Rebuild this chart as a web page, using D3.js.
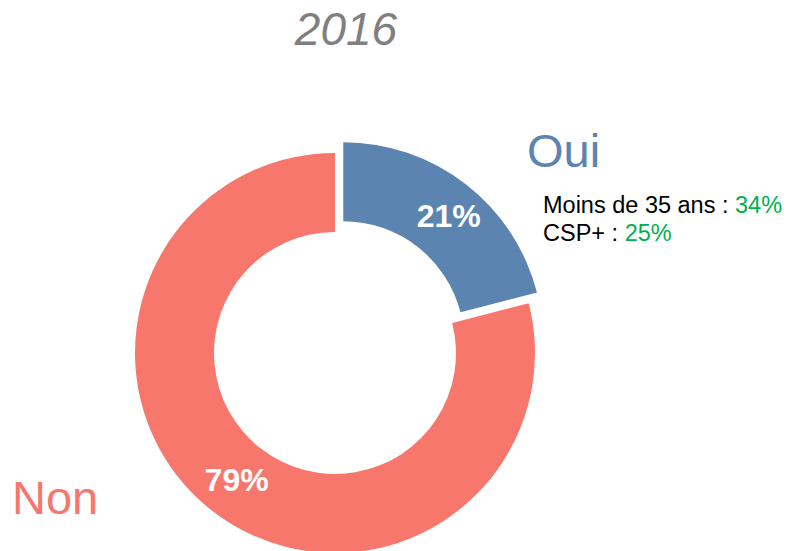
<!DOCTYPE html>
<html>
<head>
<meta charset="utf-8">
<script src="https://cdn.jsdelivr.net/npm/d3@7"></script>
<style>
  body { margin: 0; background: #fff; }
  text { font-family: Arial, "Liberation Sans", sans-serif; }
</style>
</head>
<body>
<div id="chart"></div>
<script>
const title = "2016";
const categories = ["Oui", "Non"];
const values = [21, 79];
const colors = ["#5b84b0", "#f8776d"];
const noteLabels = ["Moins de 35 ans", "CSP+"];
const noteValues = [34, 25];

const width = 788, height = 551;
const cx = 335, cy = 353;
const outerR = 200, innerR = 121;
const explode = 13.5;

const svg = d3.select("#chart")
  .append("svg")
  .attr("width", width)
  .attr("height", height);

svg.append("text")
  .attr("x", 346).attr("y", 45)
  .attr("text-anchor", "middle")
  .style("font-size", "46px")
  .style("font-style", "italic")
  .attr("fill", "#7f7f7f")
  .text(title);

const data = categories.map((c, i) => ({ cat: c, value: values[i], color: colors[i] }));

const pie = d3.pie().sort(null).value(d => d.value);
const arc = d3.arc().innerRadius(innerR).outerRadius(outerR);
const arcs = pie(data);

const g = svg.append("g").attr("transform", `translate(${cx},${cy})`);

const slices = g.selectAll("g.slice")
  .data(arcs)
  .join("g")
  .attr("class", "slice")
  .attr("transform", (d, i) => {
    if (i !== 0) return null;
    const a = (d.startAngle + d.endAngle) / 2;
    return `translate(${explode * Math.sin(a)},${-explode * Math.cos(a)})`;
  });

slices.append("path")
  .attr("d", arc)
  .attr("fill", d => d.data.color);

// the small slice label sits a bit further right in the original
slices.append("text")
  .attr("transform", d => `translate(${arc.centroid(d)})`)
  .attr("text-anchor", "middle")
  .attr("dx", (d, i) => i === 0 ? 7 : 0)
  .attr("dy", "0.36em")
  .style("font-size", "32px")
  .style("font-weight", "bold")
  .attr("fill", "#fff")
  .text(d => d.data.value + "%");

// category labels
svg.append("text")
  .attr("x", 527).attr("y", 167)
  .style("font-size", "47px")
  .attr("fill", colors[0])
  .text(categories[0]);

svg.append("text")
  .attr("x", 12).attr("y", 514)
  .style("font-size", "47px")
  .attr("fill", colors[1])
  .text(categories[1]);

// notes
const notes = svg.append("g");
noteLabels.forEach((lab, i) => {
  const t = notes.append("text")
    .attr("x", 543).attr("y", 213 + i * 28)
    .style("font-size", "23.5px")
    .attr("fill", "#000");
  t.append("tspan").text(lab + " : ");
  t.append("tspan").attr("fill", "#00b050").text(noteValues[i] + "%");
});
</script>
</body>
</html>
